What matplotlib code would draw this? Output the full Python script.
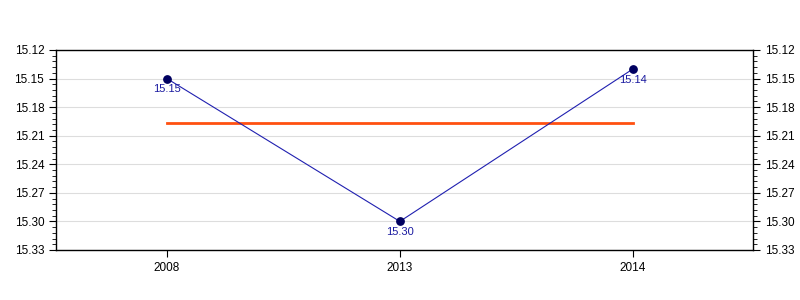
import matplotlib
matplotlib.use("Agg")
import matplotlib.pyplot as plt
from matplotlib.ticker import MultipleLocator, FormatStrFormatter

years = ["2008", "2013", "2014"]
values = [15.15, 15.30, 15.14]
labels = ["15.15", "15.30", "15.14"]
mean_value = 15.197

plt.rcParams["font.family"] = ["Liberation Sans", "DejaVu Sans"]

fig = plt.figure(figsize=(8, 3), dpi=100)
ax = fig.add_axes([0.07, 0.1667, 0.871, 0.6667])

x = list(range(len(years)))
ax.plot(x, values, color="#2020b0", linewidth=0.8, zorder=3)
ax.scatter(x, values, s=28, color="#000060", zorder=4)
ax.plot([x[0], x[-1]], [mean_value, mean_value], color="#ff5010", linewidth=2, zorder=2)

for xi, v, lab in zip(x, values, labels):
    ax.annotate(lab, (xi, v), xytext=(0, -4), textcoords="offset points",
                ha="center", va="top", fontsize=8, color="#1a1aa0")

ax.set_xlim(-0.476, 2.515)
ax.set_ylim(15.33, 15.12)
ax.set_xticks(x)
ax.set_xticklabels(years, fontsize=8.5)
ax.yaxis.set_major_locator(MultipleLocator(0.03))
ax.yaxis.set_minor_locator(MultipleLocator(0.006))
ax.yaxis.set_major_formatter(FormatStrFormatter("%.2f"))
ax.tick_params(axis="y", which="both", labelsize=8.5, left=True, right=True,
               labelleft=True, labelright=True, direction="out")
ax.tick_params(axis="y", which="major", length=5)
ax.tick_params(axis="y", which="minor", length=3)
ax.tick_params(axis="x", length=5, direction="out")
ax.grid(axis="y", color="#dddddd", linewidth=0.8)
ax.set_axisbelow(True)
for s in ax.spines.values():
    s.set_linewidth(1)

fig.savefig("out.png")
